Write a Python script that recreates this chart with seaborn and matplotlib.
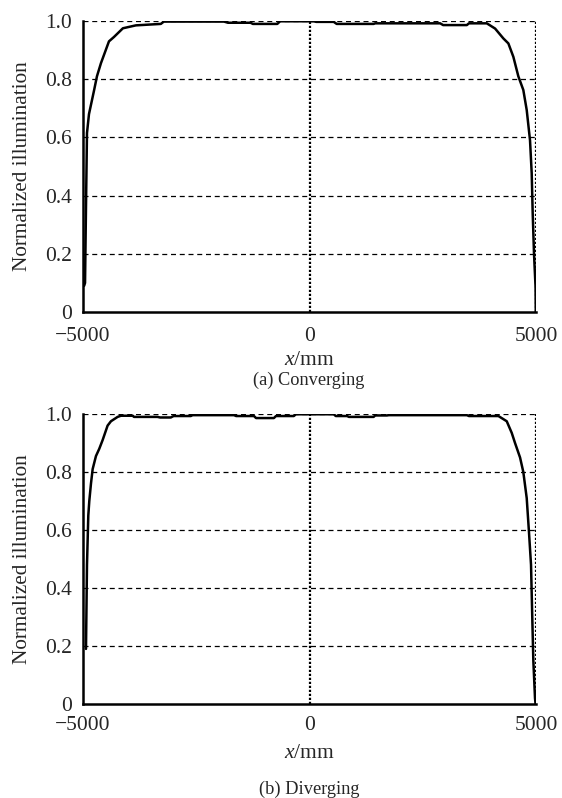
import matplotlib
matplotlib.use("Agg")
import matplotlib.pyplot as plt
import seaborn as sns
import pandas as pd

# ---------------- data ----------------
x_conv = [-4975, -4955, -4934, -4912, -4868, -4758, -4692, -4604, -4427, -4317,
          -4119, -3833, -3282, -3216, -1887, -1800, -1300, -1250, -711, -650,
          95, 150, 535, 600, 1416, 1450, 2885, 2950, 3473, 3520, 3914,
          4097, 4280, 4390, 4500, 4610, 4720, 4795, 4868, 4905, 4927, 4956, 4990, 4995]
y_conv = [0.09, 0.10, 0.36, 0.615, 0.68, 0.76, 0.81, 0.855, 0.93, 0.945,
          0.975, 0.985, 0.99, 0.998, 0.998, 0.994, 0.994, 0.99, 0.99, 0.999,
          0.999, 0.997, 0.997, 0.99, 0.99, 0.992, 0.992, 0.986, 0.986, 0.992, 0.992,
          0.974, 0.94, 0.923, 0.877, 0.81, 0.763, 0.694, 0.59, 0.477, 0.34, 0.20, 0.086, 0.0]

x_div = [-4934, -4912, -4883, -4861, -4824, -4787, -4714, -4641, -4567, -4457,
         -4383, -4236, -4163, -3900, -3876, -3355, -3300, -3062, -3000, -2621,
         -2580, -1667, -1620, -1226, -1180, -786, -740, -346, -300, 535,
         580, 830, 870, 1416, 1450, 1710, 1750, 3473, 3520, 4170,
         4354, 4464, 4537, 4648, 4720, 4795, 4846, 4890, 4919, 4941, 4978, 4990]
y_div = [0.19, 0.48, 0.65, 0.70, 0.76, 0.81, 0.855, 0.88, 0.91, 0.96,
         0.975, 0.99, 0.994, 0.994, 0.99, 0.99, 0.988, 0.988, 0.993, 0.993,
         0.996, 0.996, 0.993, 0.993, 0.986, 0.986, 0.993, 0.993, 0.999, 0.999,
         0.993, 0.993, 0.99, 0.99, 0.995, 0.995, 0.996, 0.996, 0.993, 0.993,
         0.975, 0.935, 0.90, 0.85, 0.80, 0.71, 0.59, 0.48, 0.29, 0.15, 0.02, 0.0]

x_ticks = [-5000, 0, 5000]
x_tick_labels = ["\u22125000", "0", "5000"]
y_ticks = [0, 0.2, 0.4, 0.6, 0.8, 1.0]
y_tick_labels = ["0", "0.2", "0.4", "0.6", "0.8", "1.0"]
captions = ["(a) Converging", "(b) Diverging"]
y_label = "Normalized illumination"

# ---------------- style ----------------
sns.set_style("white")
plt.rcParams["font.family"] = ["Liberation Serif", "DejaVu Serif"]
plt.rcParams["mathtext.fontset"] = "custom"
plt.rcParams["mathtext.it"] = "Liberation Serif:italic"
plt.rcParams["mathtext.rm"] = "Liberation Serif"

fig = plt.figure(figsize=(5.62, 7.98), dpi=100)
W, H = 562, 798
boxes = [(83, 21, 536, 312), (83, 414, 536, 704)]
datasets = [(x_conv, y_conv), (x_div, y_div)]
caption_y = [380, 789]
xpads = [10.5, 8.5]
xlabelpads = [4, 6.5]

for (l, t, r, b), (xs, ys), cap, cy, xp, xlp in zip(boxes, datasets, captions,
                                                    caption_y, xpads, xlabelpads):
    ax = fig.add_axes([l / W, 1 - b / H, (r - l) / W, (b - t) / H])
    df = pd.DataFrame({"x": xs, "y": ys})
    # grid lines
    for yv in y_ticks[1:]:
        ax.axhline(yv, color="black", lw=0.9, ls=(0, (4, 3)), zorder=1)
    ax.axvline(0, color="black", lw=1.6, ls=(0, (1, 0.8)), zorder=1)
    ax.axvline(5000, color="black", lw=1.6, ls=(0, (1, 0.8)), zorder=1)
    sns.lineplot(data=df, x="x", y="y", ax=ax, color="black", lw=1.8,
                 sort=False, estimator=None, zorder=3)
    ax.set_xlim(-5000, 5000)
    ax.set_ylim(0, 1.0)
    ax.set_xticks(x_ticks)
    ax.set_xticklabels(x_tick_labels)
    ax.set_yticks(y_ticks)
    ax.set_yticklabels(y_tick_labels)
    ax.tick_params(axis="both", length=0, labelsize=15.5)
    ax.tick_params(axis="x", pad=xp)
    ax.tick_params(axis="y", pad=8)
    for side in ["top", "right"]:
        ax.spines[side].set_visible(False)
    for side in ["left", "bottom"]:
        ax.spines[side].set_color("black")
        ax.spines[side].set_linewidth(1.8)
    ax.set_xlabel(r"$x$/mm", fontsize=15.5, labelpad=xlp)
    ax.set_ylabel(y_label, fontsize=15.3, labelpad=9.5)
    fig.text(309 / W, 1 - cy / H, cap, ha="center", va="center", fontsize=13.2)

fig.savefig("out.png", dpi=100, facecolor="white")
